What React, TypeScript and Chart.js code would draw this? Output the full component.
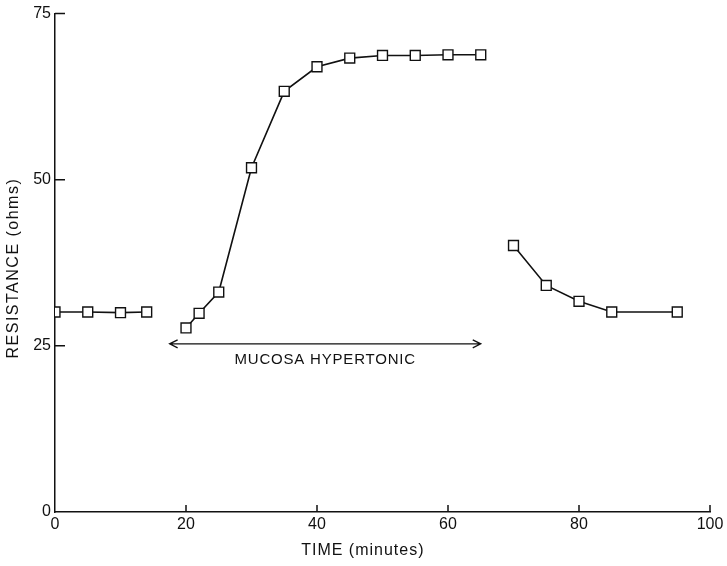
import React, { useEffect, useRef } from "react";
import { Chart, registerables } from "chart.js";

Chart.register(...registerables);

const baselineTimes = [0, 5, 10, 14];
const baselineResistance = [30.1, 30.1, 30.0, 30.1];

const hypertonicTimes = [20, 22, 25, 30, 35, 40, 45, 50, 55, 60, 65];
const hypertonicResistance = [27.7, 29.9, 33.1, 51.8, 63.3, 67.0, 68.3, 68.7, 68.7, 68.8, 68.8];

const recoveryTimes = [70, 75, 80, 85, 95];
const recoveryResistance = [40.1, 34.1, 31.7, 30.1, 30.1];

const xTickValues = [0, 20, 40, 60, 80, 100];
const yTickValues = [0, 25, 50, 75];

const arrowStart = 17.5;
const arrowEnd = 65;
const arrowLevel = 25.3;
const arrowLabel = "MUCOSA HYPERTONIC";
const xTitle = "TIME (minutes)";
const yTitle = "RESISTANCE (ohms)";

const INK = "#111";

function toPoints(xs: number[], ys: number[]) {
  return xs.map((x, i) => ({ x, y: ys[i] }));
}

const seriesStyle = {
  showLine: true,
  borderColor: INK,
  borderWidth: 1.6,
  pointStyle: "rect" as const,
  pointRadius: 7,
  pointBackgroundColor: "#fff",
  pointBorderColor: INK,
  pointBorderWidth: 1.4,
  fill: false,
  tension: 0,
};

const decorPlugin = {
  id: "decor",
  afterDraw(chart: any) {
    const { ctx, chartArea, scales } = chart;
    const xs = scales.x;
    const ys = scales.y;
    ctx.save();
    ctx.strokeStyle = INK;
    ctx.fillStyle = INK;
    ctx.lineWidth = 1.5;
    // inward ticks
    ctx.beginPath();
    yTickValues.forEach((v) => {
      const py = ys.getPixelForValue(v);
      if (v === 0) return;
      ctx.moveTo(chartArea.left, py);
      ctx.lineTo(chartArea.left + 10, py);
    });
    xTickValues.forEach((v) => {
      if (v === 0) return;
      const px = xs.getPixelForValue(v);
      ctx.moveTo(px, chartArea.bottom);
      ctx.lineTo(px, chartArea.bottom - 7);
    });
    ctx.stroke();

    // arrow
    const ax1 = xs.getPixelForValue(arrowStart);
    const ax2 = xs.getPixelForValue(arrowEnd);
    const ay = ys.getPixelForValue(arrowLevel);
    ctx.lineWidth = 1.3;
    ctx.beginPath();
    ctx.moveTo(ax1, ay);
    ctx.lineTo(ax2, ay);
    ctx.moveTo(ax1 + 8, ay - 4);
    ctx.lineTo(ax1, ay);
    ctx.lineTo(ax1 + 8, ay + 4);
    ctx.moveTo(ax2 - 8, ay - 4);
    ctx.lineTo(ax2, ay);
    ctx.lineTo(ax2 - 8, ay + 4);
    ctx.stroke();

    // arrow label
    ctx.font = "15px 'Liberation Sans', Arial, sans-serif";
    (ctx as any).letterSpacing = "0.8px";
    ctx.textAlign = "center";
    ctx.textBaseline = "middle";
    ctx.fillText(arrowLabel, (ax1 + ax2) / 2 + 0, ay + 16);

    // axis titles
    ctx.font = "16px 'Liberation Sans', Arial, sans-serif";
    (ctx as any).letterSpacing = "1px";
    ctx.fillText(xTitle, xs.getPixelForValue(47), 551);

    (ctx as any).letterSpacing = "1.5px";
    ctx.translate(14, ys.getPixelForValue(36.7));
    ctx.rotate(-Math.PI / 2);
    ctx.fillText(yTitle, 0, 0);
    ctx.restore();
  },
};

export default function App() {
  const ref = useRef<HTMLCanvasElement | null>(null);

  useEffect(() => {
    if (!ref.current) return;
    const chart = new Chart(ref.current, {
      type: "scatter",
      data: {
        datasets: [
          { ...seriesStyle, data: toPoints(baselineTimes, baselineResistance) },
          { ...seriesStyle, data: toPoints(hypertonicTimes, hypertonicResistance) },
          { ...seriesStyle, data: toPoints(recoveryTimes, recoveryResistance) },
        ],
      },
      options: {
        responsive: false,
        animation: false,
        events: [],
        layout: { padding: { top: 13, right: 17, left: 0, bottom: 0 } },
        plugins: { legend: { display: false }, tooltip: { enabled: false } },
        scales: {
          x: {
            type: "linear",
            min: 0,
            max: 100,
            afterBuildTicks: (scale: any) => {
              scale.ticks = xTickValues.map((v) => ({ value: v }));
            },
            afterFit: (scale: any) => {
              scale.height = 54;
            },
            grid: { display: true, drawOnChartArea: false, drawTicks: false },
            border: { display: true, color: INK, width: 1.5 },
            ticks: {
              padding: 3,
              color: INK,
              font: { family: "'Liberation Sans', Arial, sans-serif", size: 16 },
              maxRotation: 0,
              autoSkip: false,
            },
          },
          y: {
            type: "linear",
            min: 0,
            max: 75,
            afterBuildTicks: (scale: any) => {
              scale.ticks = yTickValues.map((v) => ({ value: v }));
            },
            afterFit: (scale: any) => {
              scale.width = 55;
            },
            grid: { display: true, drawOnChartArea: false, drawTicks: false },
            border: { display: true, color: INK, width: 1.5 },
            ticks: {
              padding: 4,
              color: INK,
              font: { family: "'Liberation Sans', Arial, sans-serif", size: 16 },
              autoSkip: false,
            },
          },
        },
      },
      plugins: [decorPlugin],
    });
    return () => chart.destroy();
  }, []);

  return (
    <div style={{ position: "fixed", left: 0, top: 0, width: 727, height: 566, background: "#fff" }}>
      <canvas ref={ref} width={727} height={566} style={{ display: "block" }} />
    </div>
  );
}
